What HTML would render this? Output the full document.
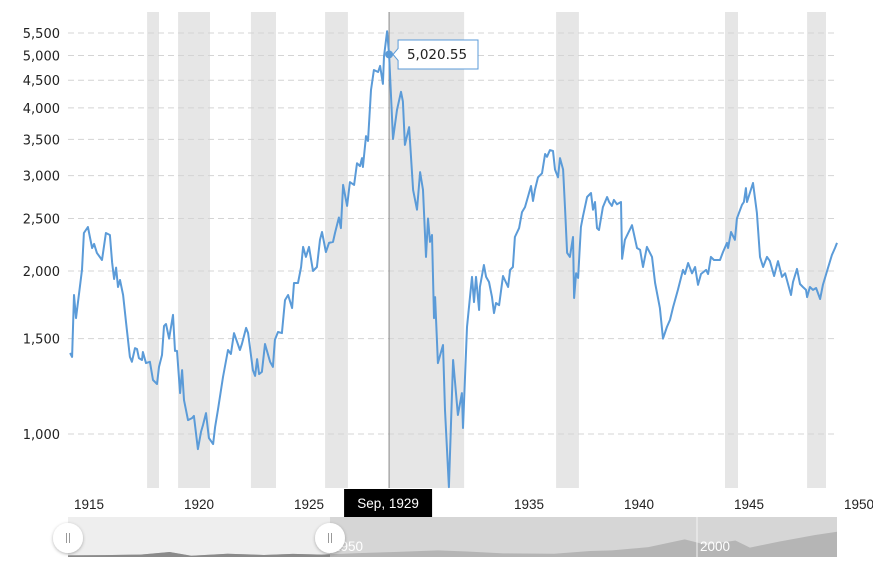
<!DOCTYPE html>
<html><head><meta charset="utf-8"><style>
body{margin:0;background:#fff;width:873px;height:574px;overflow:hidden;font-family:"Liberation Sans",sans-serif}
svg text{font-family:"Liberation Sans",sans-serif}
svg text.yl{font-family:"DejaVu Sans",sans-serif}
</style></head><body>
<svg id="chart" width="873" height="574" xmlns="http://www.w3.org/2000/svg"></svg>
<script>
const dates=[1915.14,1915.23,1915.32,1915.41,1915.68,1915.77,1915.95,1916.14,1916.23,1916.36,1916.59,1916.77,1916.95,1917.05,1917.14,1917.23,1917.32,1917.41,1917.55,1917.68,1917.86,1917.95,1918.09,1918.18,1918.27,1918.41,1918.45,1918.59,1918.77,1918.91,1919.09,1919.18,1919.32,1919.41,1919.5,1919.64,1919.82,1919.91,1920.0,1920.14,1920.23,1920.32,1920.5,1920.68,1920.77,1920.95,1921.09,1921.18,1921.32,1921.45,1921.64,1921.73,1921.86,1922.09,1922.32,1922.45,1922.59,1922.86,1922.95,1923.14,1923.23,1923.45,1923.55,1923.64,1923.73,1923.86,1924.0,1924.23,1924.36,1924.45,1924.59,1924.77,1924.91,1925.05,1925.23,1925.32,1925.5,1925.64,1925.73,1925.86,1926.0,1926.18,1926.36,1926.5,1926.59,1926.77,1926.91,1927.09,1927.18,1927.36,1927.45,1927.55,1927.73,1927.86,1928.05,1928.18,1928.32,1928.41,1928.45,1928.59,1928.68,1928.82,1928.95,1929.14,1929.23,1929.36,1929.41,1929.55,1929.64,1929.82,1930.0,1930.18,1930.27,1930.36,1930.55,1930.73,1930.91,1931.05,1931.18,1931.32,1931.41,1931.5,1931.59,1931.68,1931.73,1931.86,1932.09,1932.18,1932.36,1932.55,1932.77,1932.95,1933.0,1933.18,1933.41,1933.5,1933.59,1933.73,1933.77,1933.95,1934.05,1934.18,1934.32,1934.41,1934.5,1934.64,1934.82,1935.05,1935.14,1935.27,1935.36,1935.55,1935.68,1935.82,1935.95,1936.09,1936.18,1936.27,1936.41,1936.59,1936.73,1936.82,1936.95,1937.09,1937.18,1937.32,1937.41,1937.55,1937.64,1937.73,1937.86,1938.0,1938.05,1938.14,1938.23,1938.36,1938.45,1938.64,1938.82,1938.91,1939.0,1939.09,1939.18,1939.36,1939.55,1939.64,1939.77,1939.86,1940.0,1940.18,1940.23,1940.36,1940.68,1940.91,1941.05,1941.18,1941.36,1941.59,1941.73,1941.95,1942.09,1942.27,1942.41,1942.55,1942.77,1943.0,1943.09,1943.23,1943.41,1943.55,1943.68,1943.82,1944.05,1944.14,1944.27,1944.41,1944.68,1944.82,1945.0,1945.05,1945.18,1945.36,1945.45,1945.68,1945.77,1945.86,1945.91,1946.18,1946.36,1946.5,1946.64,1946.82,1946.95,1947.14,1947.32,1947.5,1947.64,1947.91,1948.0,1948.18,1948.32,1948.45,1948.59,1948.64,1948.77,1948.91,1949.05,1949.23,1949.36,1949.59,1949.77,1949.91,1950.0];
const values=[1411,1388,1806,1637,2010,2350,2411,2205,2244,2160,2095,2350,2330,2076,1933,2029,1868,1925,1806,1610,1388,1359,1441,1435,1381,1370,1417,1352,1359,1258,1237,1330,1399,1582,1596,1500,1659,1424,1424,1190,1312,1155,1061,1070,1080,938,1009,1039,1093,983,958,1030,1107,1274,1429,1405,1536,1429,1466,1570,1536,1312,1280,1375,1290,1302,1466,1359,1330,1493,1543,1536,1767,1806,1708,1900,1900,2034,2215,2123,2215,2000,2034,2283,2360,2168,2253,2263,2350,2510,2400,2883,2637,2918,2883,3162,3123,3232,3112,3548,3475,4317,4700,4660,4783,4430,4980,5540,5020.55,3505,3966,4283,4110,3418,3687,2823,2595,3045,2823,2123,2500,2263,2330,1637,1790,1352,1460,1107,798,1370,1084,1190,1026,1576,1950,1752,1950,1694,1868,2051,1950,1908,1790,1672,1745,1729,1958,1868,2009,2034,2311,2400,2569,2624,2739,2870,2693,2823,2978,3030,3288,3250,3343,3330,3079,2978,3232,3079,2595,2161,2123,2311,1783,1980,1942,2410,2520,2739,2786,2595,2681,2400,2380,2624,2739,2681,2637,2705,2655,2681,2106,2283,2430,2205,2187,2034,2215,2123,1900,1708,1500,1576,1624,1715,1845,2009,1974,2069,1980,2034,1885,1974,2009,1974,2123,2095,2095,2168,2253,2205,2360,2283,2500,2650,2681,2845,2681,2907,2560,2123,2034,2123,2086,1958,2086,1950,1980,1806,1908,2018,1892,1868,1845,1790,1868,1845,1860,1775,1885,2026,2140,2205,2253];
const recStart=[1918.64,1920.05,1923.36,1926.73,1929.64,1937.23,1944.91,1948.64];
const recEnd=[1919.18,1921.5,1924.5,1927.77,1933.05,1938.27,1945.5,1949.5];
const yTicks=[1000,1500,2000,2500,3000,3500,4000,4500,5000,5500];
const yTickLabels=["1,000","1,500","2,000","2,500","3,000","3,500","4,000","4,500","5,000","5,500"];
const xTicks=[1915,1920,1925,1935,1940,1945,1950];
const navYears=[1915,1920,1925,1929,1932,1937,1942,1946,1950,1955,1960,1966,1970,1975,1982,1987,1990,1995,2000,2003,2007,2009,2013,2018,2021];
const navVals=[1.5,1.7,2.2,4.5,1.2,3.0,1.8,2.8,2.2,3.5,4.5,6.0,5.0,3.3,3.0,5.5,6.0,9.0,16,11,15,8.5,14,20,23];
const tipIndex=values.indexOf(5020.55);

const svg=document.getElementById('chart');
const NS='http://www.w3.org/2000/svg';
const L=68,R=837,T=12,B=488;
const xS=d=>67+(d-1915)*22;
const yS=v=>434-541.6*Math.log10(v/1000);
function mk(tag,attrs,parent){const e=document.createElementNS(NS,tag);for(const k in attrs)e.setAttribute(k,attrs[k]);(parent||svg).appendChild(e);return e;}

recStart.forEach((s,i)=>{
  const r=mk('rect',{x:xS(s),y:T,width:xS(recEnd[i])-xS(s),height:B-T,fill:'#e6e6e6'});
  
  
});
yTicks.forEach((v,i)=>{
  const g=mk('line',{x1:L,x2:R,y1:yS(v),y2:yS(v),stroke:'#d4d4d4','stroke-dasharray':'6,4','stroke-width':1});
  
  
  const t=mk('text',{x:60,y:yS(v)+5,'text-anchor':'end','font-size':'13',fill:'#222','class':'yl'});
  t.textContent=yTickLabels[i];
  
  
});
xTicks.forEach(y=>{
  const t=mk('text',{x:xS(y)+22,y:509,'text-anchor':'middle','font-size':'13.5',fill:'#222'});
  t.textContent=String(y);
  
  
});
const ch=mk('line',{x1:xS(dates[tipIndex]),x2:xS(dates[tipIndex]),y1:T,y2:B,stroke:'#888','stroke-width':1});


let d='';dates.forEach((dt,i)=>{if(values[i]===undefined)return;d+=(d?'L':'M')+xS(dt).toFixed(1)+','+yS(values[i]).toFixed(1);});
const p=mk('path',{d:d,fill:'none',stroke:'#5b9bd8','stroke-width':2,'stroke-linejoin':'round'});


const mx=xS(dates[tipIndex]),my=yS(values[tipIndex]);
const m=mk('circle',{cx:mx,cy:my,r:4,fill:'#5b9bd8'});


const tg=mk('g',{});


mk('path',{d:`M${mx+4},${my} L${mx+9},${my-6} L${mx+9},40 L478,40 L478,69 L${mx+9},69 L${mx+9},${my+6} Z`,fill:'#fff',stroke:'#5b9bd8','stroke-width':1},tg);
const tt=mk('text',{x:437,y:59,'text-anchor':'middle','font-size':'13.5',fill:'#222','class':'yl'},tg);
tt.textContent='5,020.55';
const dg=mk('g',{});


mk('rect',{x:mx-45,y:489,width:88,height:28,fill:'#000'},dg);
const dt=mk('text',{x:mx-1,y:508,'text-anchor':'middle','font-size':'13.5',fill:'#fff'},dg);
dt.textContent='Sep, 1929';
const NT=517,NB=557,NL=68,NR=837;
const nx=y=>NL+(y-1915)*(NR-NL)/(2021-1915);
const ny=v=>NB-v*1.1;
const nav=mk('g',{});


mk('rect',{x:NL,y:NT,width:NR-NL,height:NB-NT,fill:'#d6d6d6'},nav);
mk('rect',{x:NL,y:NT,width:330-NL,height:NB-NT,fill:'#eeeeee'},nav);
let nd='M'+NL+','+NB;navYears.forEach((y,i)=>{nd+='L'+nx(y).toFixed(1)+','+ny(navVals[i]).toFixed(1);});nd+='L'+NR+','+NB+'Z';
const nsr=mk('path',{d:nd,fill:'#b5b5b5'},nav);


mk('path',{d:nd,fill:'#8a8a8a','clip-path':'url(#selclip)'},nav);
const cp=mk('clipPath',{id:'selclip'});mk('rect',{x:NL,y:NT,width:330-NL,height:NB-NT},cp);
mk('line',{x1:697,x2:697,y1:NT,y2:NB,stroke:'#f4f4f4','stroke-width':1},nav);
const l1=mk('text',{x:333,y:551,'font-size':'13.5',fill:'#fff'},nav);l1.textContent='1950';


const l2=mk('text',{x:700,y:551,'font-size':'13.5',fill:'#fff'},nav);l2.textContent='2000';


mk('defs',{}).innerHTML='<filter id="sh" x="-50%" y="-50%" width="200%" height="200%"><feDropShadow dx="0" dy="1" stdDeviation="1.5" flood-color="#000" flood-opacity="0.3"/></filter>';
[68,330].forEach(hx=>{
  const h=mk('g',{});
  
  
  mk('circle',{cx:hx,cy:538,r:15,fill:'#fff',filter:'url(#sh)'},h);
  mk('line',{x1:hx-1.5,x2:hx-1.5,y1:533,y2:543,stroke:'#999'},h);
  mk('line',{x1:hx+1.5,x2:hx+1.5,y1:533,y2:543,stroke:'#999'},h);
});
</script>
</body></html>
